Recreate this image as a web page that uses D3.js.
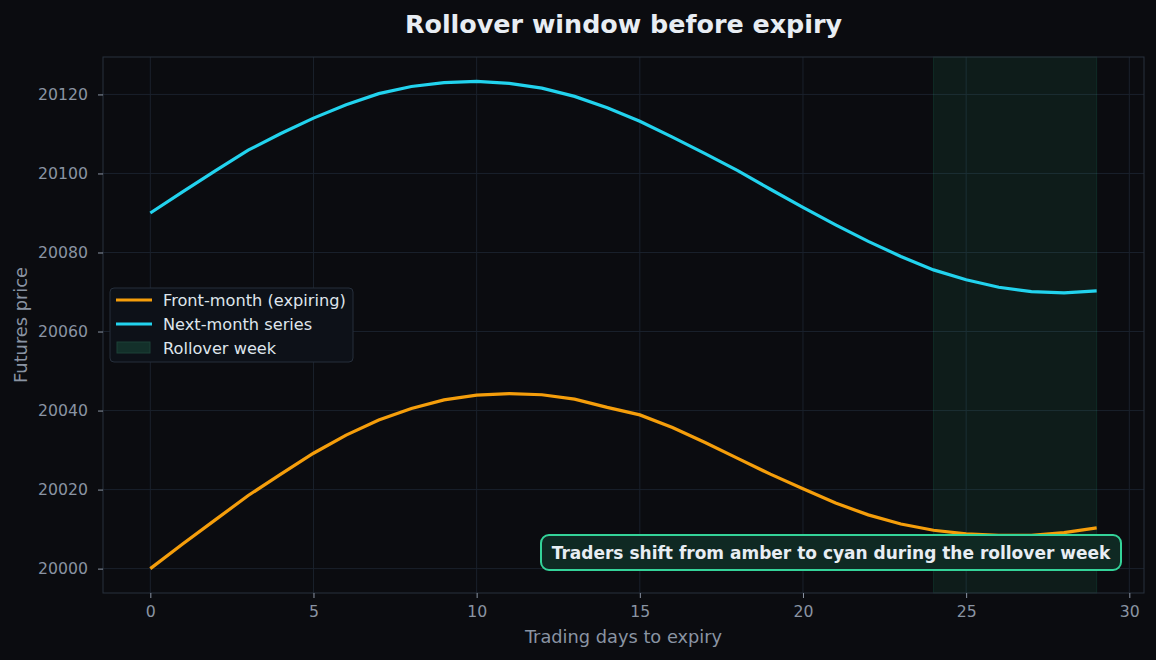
<!DOCTYPE html>
<html>
<head>
<meta charset="utf-8">
<script src="https://cdn.jsdelivr.net/npm/d3@7"></script>
<style>
  html, body { margin: 0; padding: 0; background: #0b0c10; }
  svg { display: block; font-family: "DejaVu Sans", sans-serif; }
</style>
</head>
<body>
<svg id="chart" width="1156" height="660"></svg>
<script>
var days = d3.range(0, 30);
var frontMonth = [20000.0, 20006.3, 20012.4, 20018.5, 20023.9, 20029.2, 20033.8, 20037.6, 20040.5, 20042.7,
                  20043.9, 20044.3, 20044.0, 20042.9, 20040.8, 20038.9, 20035.7, 20031.9, 20027.9, 20023.9,
                  20020.2, 20016.6, 20013.6, 20011.3, 20009.7, 20008.8, 20008.4, 20008.4, 20009.1, 20010.3];
var nextMonth = [20090.0, 20095.4, 20100.7, 20105.9, 20110.1, 20114.0, 20117.4, 20120.2, 20122.0, 20123.0,
                 20123.3, 20122.8, 20121.6, 20119.5, 20116.6, 20113.2, 20109.2, 20105.0, 20100.7, 20096.0,
                 20091.4, 20087.0, 20082.8, 20079.0, 20075.6, 20073.1, 20071.2, 20070.1, 20069.8, 20070.3];
var rollover = [24, 29];
var xTicks = [0, 5, 10, 15, 20, 25, 30];
var yTicks = [20000, 20020, 20040, 20060, 20080, 20100, 20120];
var legendLabels = ["Front-month (expiring)", "Next-month series", "Rollover week"];
var noteText = "Traders shift from amber to cyan during the rollover week";

var margin = {top: 57, right: 12, bottom: 67, left: 103},
    width = 1156 - margin.left - margin.right,
    height = 660 - margin.top - margin.bottom;

var svg = d3.select('#chart');
var g = svg.append('g').attr('transform', 'translate(' + margin.left + ',' + margin.top + ')');

var x = d3.scaleLinear().domain([-1.45, 30.45]).range([0, width]);
var y = d3.scaleLinear().domain([19993.83, 20129.47]).range([height, 0]);

// grid
g.append('g').selectAll('line').data(xTicks).enter().append('line')
  .attr('x1', function(d) { return x(d); }).attr('x2', function(d) { return x(d); })
  .attr('y1', 0).attr('y2', height)
  .attr('stroke', '#1a212c').attr('stroke-width', 1);
g.append('g').selectAll('line').data(yTicks).enter().append('line')
  .attr('x1', 0).attr('x2', width)
  .attr('y1', function(d) { return y(d); }).attr('y2', function(d) { return y(d); })
  .attr('stroke', '#1a212c').attr('stroke-width', 1);

// rollover shading
g.append('rect')
  .attr('x', x(rollover[0])).attr('y', 0)
  .attr('width', x(rollover[1]) - x(rollover[0])).attr('height', height)
  .attr('fill', '#34d399').attr('fill-opacity', 0.08)
  .attr('stroke', '#34d399').attr('stroke-opacity', 0.12);

var line = d3.line()
  .x(function(d, i) { return x(days[i]); })
  .y(function(d) { return y(d); });

g.append('path').datum(frontMonth).attr('d', line)
  .attr('fill', 'none').attr('stroke', '#f59e0b').attr('stroke-width', 3.2);
g.append('path').datum(nextMonth).attr('d', line)
  .attr('fill', 'none').attr('stroke', '#22d3ee').attr('stroke-width', 3.2);

// spines
g.append('rect').attr('x', 0).attr('y', 0).attr('width', width).attr('height', height)
  .attr('fill', 'none').attr('stroke', '#28313d').attr('stroke-width', 1);

// axes
var xAxis = g.append('g').attr('transform', 'translate(0,' + height + ')')
  .call(d3.axisBottom(x).tickValues(xTicks).tickSize(5).tickPadding(8));
var yAxis = g.append('g')
  .call(d3.axisLeft(y).tickValues(yTicks).tickSize(5).tickPadding(10).tickFormat(d3.format('d')));
[xAxis, yAxis].forEach(function(a) {
  a.select('.domain').remove();
  a.selectAll('.tick line').attr('stroke', '#8a94a3');
  a.selectAll('.tick text').attr('fill', '#8a94a3').style('font-size', '15.7px')
    .style('font-family', '"DejaVu Sans", sans-serif');
});

// labels
svg.append('text').attr('x', margin.left + width / 2).attr('y', 33)
  .attr('text-anchor', 'middle').attr('fill', '#e8edf3')
  .style('font-size', '25.4px').style('font-weight', 'bold')
  .text('Rollover window before expiry');
svg.append('text').attr('x', margin.left + width / 2).attr('y', 643)
  .attr('text-anchor', 'middle').attr('fill', '#8a94a3').style('font-size', '17.8px')
  .text('Trading days to expiry');
svg.append('text').attr('transform', 'translate(27,' + (margin.top + height / 2) + ') rotate(-90)')
  .attr('text-anchor', 'middle').attr('fill', '#8a94a3').style('font-size', '17.8px')
  .text('Futures price');

// legend
var lg = svg.append('g').attr('transform', 'translate(110,288)');
lg.append('rect').attr('width', 243).attr('height', 74).attr('rx', 4)
  .attr('fill', '#0d1118').attr('stroke', '#262f3b');
var legendColors = ['#f59e0b', '#22d3ee'];
legendLabels.forEach(function(label, i) {
  var ly = 12 + i * 24;
  if (i < 2) {
    lg.append('line').attr('x1', 6).attr('x2', 42).attr('y1', ly).attr('y2', ly)
      .attr('stroke', legendColors[i]).attr('stroke-width', 3.2);
  } else {
    lg.append('rect').attr('x', 7).attr('y', ly - 6).attr('width', 33).attr('height', 11)
      .attr('fill', '#13302a').attr('stroke', '#1d4137');
  }
  lg.append('text').attr('x', 53).attr('y', ly + 6).attr('fill', '#dfe5ec')
    .style('font-size', '16.2px').text(label);
});

// note
var note = svg.append('g');
note.append('rect').attr('x', 541).attr('y', 535).attr('width', 580).attr('height', 35).attr('rx', 8)
  .attr('fill', '#0f2923').attr('stroke', '#34d399').attr('stroke-width', 2);
note.append('text').attr('x', 831).attr('y', 558.5).attr('text-anchor', 'middle')
  .attr('fill', '#e8edf3').style('font-size', '17px').style('font-weight', 'bold')
  .text(noteText);
</script>
</body>
</html>
